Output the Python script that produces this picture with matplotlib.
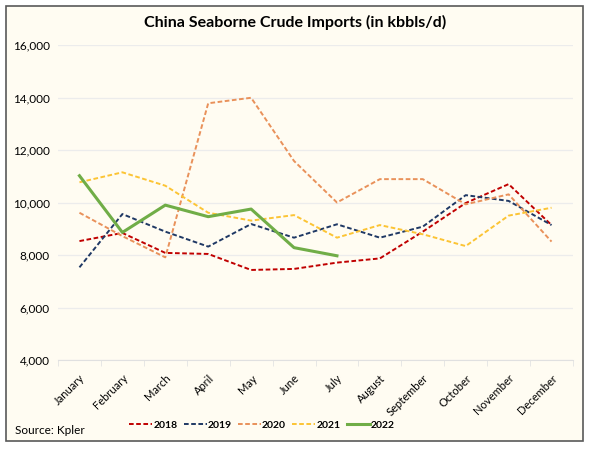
import numpy as np
import matplotlib.pyplot as plt
from matplotlib.patches import Rectangle

months = ['January', 'February', 'March', 'April', 'May', 'June', 'July',
          'August', 'September', 'October', 'November', 'December']
y2018 = [8530, 8840, 8080, 8040, 7430, 7470, 7710, 7870, 8890, 9980, 10700, 9140]
y2019 = [7530, 9560, 8890, 8320, 9180, 8660, 9170, 8660, 9080, 10280, 10060, 9140]
y2020 = [9610, 8720, 7910, 13780, 13990, 11580, 10000, 10890, 10890, 9930, 10310, 8510]
y2021 = [10770, 11150, 10640, 9610, 9310, 9520, 8660, 9140, 8790, 8340, 9500, 9800]
y2022 = [11020, 8860, 9900, 9460, 9750, 8280, 7970]

plt.rcParams['font.family'] = ['Lato', 'DejaVu Sans']
bg = '#fffcf2'
dash = (0, (2.4, 1.3))

fig = plt.figure(figsize=(5.9, 4.49), dpi=100)
fig.patch.set_facecolor('white')
fig.patches.append(Rectangle((6/590, 1-441/449), 577/590, 435/449,
                             transform=fig.transFigure, facecolor=bg,
                             edgecolor='#595959', linewidth=1.2, zorder=-1))
ax = fig.add_axes([58/590, 1-360/449, 515/590, 315/449])
ax.set_facecolor(bg)

x = np.arange(len(months))
ax.plot(x, y2018, color='#c00000', ls=dash, lw=1.4, label='2018')
ax.plot(x, y2019, color='#1f3864', ls=dash, lw=1.4, label='2019')
ax.plot(x, y2020, color='#e9915a', ls=dash, lw=1.4, label='2020')
ax.plot(x, y2021, color='#fcc434', ls=dash, lw=1.4, label='2021')
ax.plot(np.arange(len(y2022)), y2022, color='#70ad47', lw=2.2, label='2022')

ax.set_xlim(-0.5, 11.5)
ax.set_ylim(4000, 16000)
ax.set_yticks(np.arange(4000, 16001, 2000))
ax.set_yticklabels(['{:,}'.format(v) for v in range(4000, 16001, 2000)], fontsize=8.5)
ax.grid(axis='y', color='#ececec', lw=0.9)
ax.set_axisbelow(True)
ax.set_xticks(x)
ax.set_xticklabels(months, rotation=45, ha='right', rotation_mode='anchor', fontsize=8)
ax.set_xticks(np.arange(-0.5, 12, 1), minor=True)
ax.tick_params(axis='x', which='major', length=0, pad=9)
ax.tick_params(axis='x', which='minor', length=4, color='#e3e3e3')
ax.tick_params(axis='y', length=0, pad=6)
for s in ['top', 'right', 'left']:
    ax.spines[s].set_visible(False)
ax.spines['bottom'].set_color('#e0e0e0')

fig.text(0.5, 1-22/449, 'China Seaborne Crude Imports (in kbbls/d)',
         ha='center', va='center', fontsize=11.5, fontweight='bold')
fig.text(15/590, 1-430/449, 'Source: Kpler', ha='left', va='center', fontsize=8.5)
leg = fig.legend(loc='center', bbox_to_anchor=(262/590, 1-425/449), ncol=5,
                 frameon=False, fontsize=7.5, handlelength=2.2, columnspacing=0.6,
                 handletextpad=0.1)
for t in leg.get_texts():
    t.set_fontweight('bold')

fig.savefig('out.png', dpi=100, facecolor='white')
